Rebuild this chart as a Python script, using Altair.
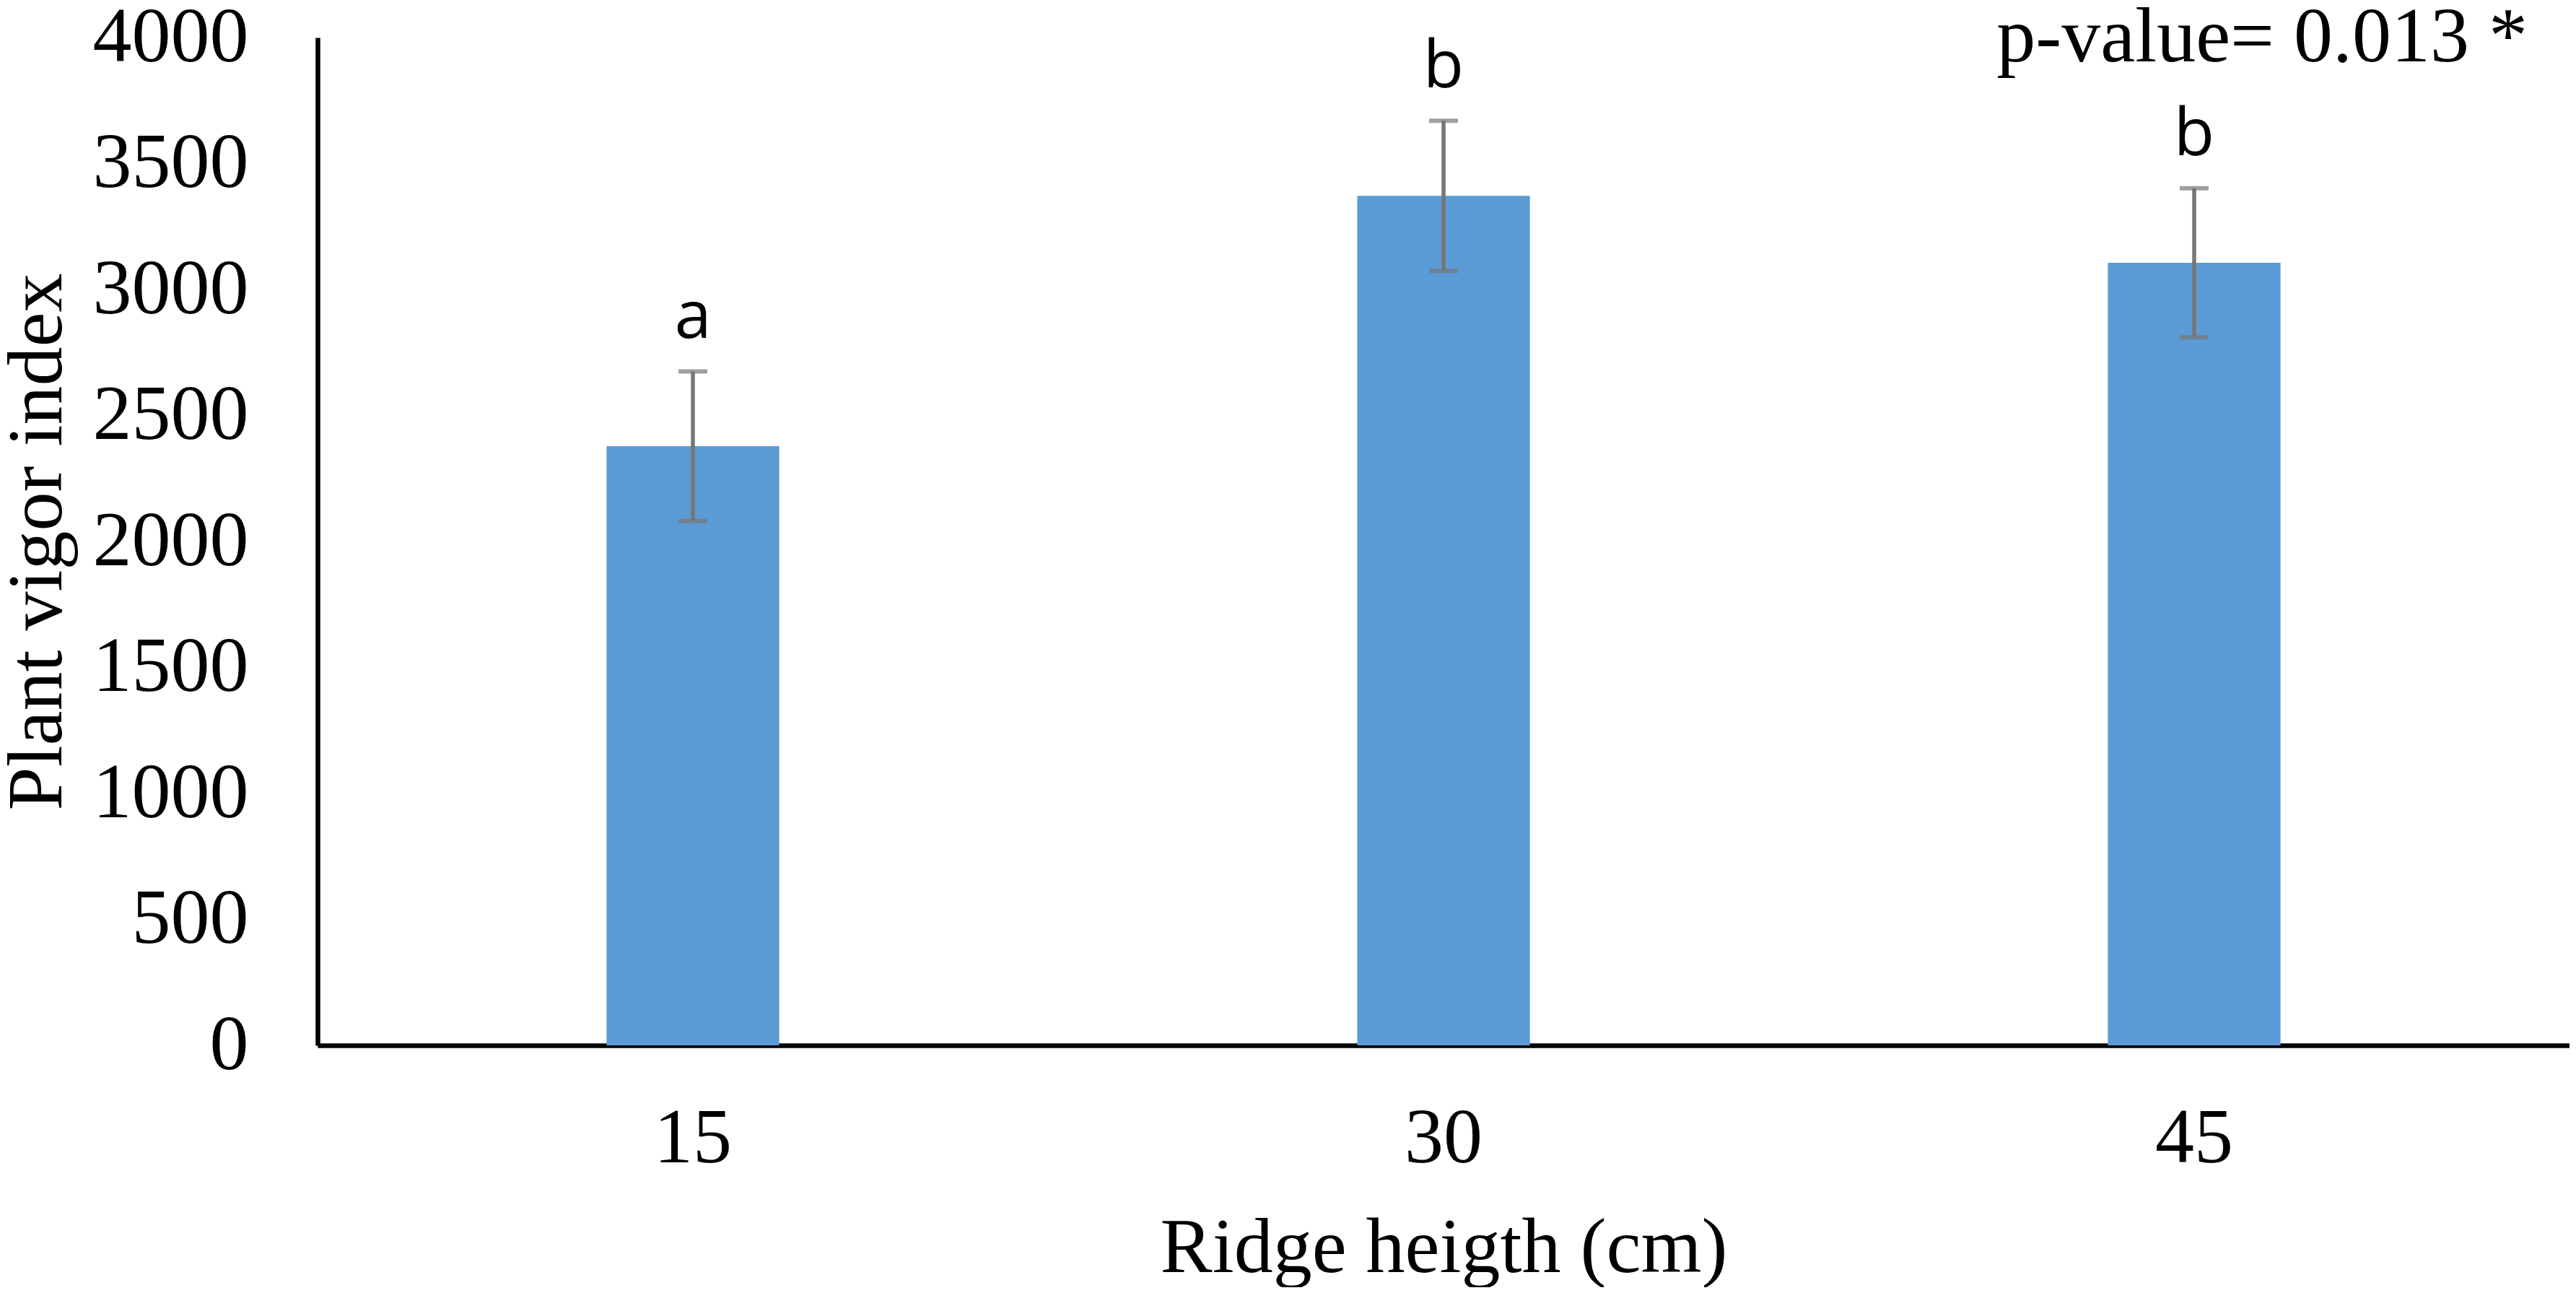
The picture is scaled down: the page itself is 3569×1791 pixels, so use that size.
import altair as alt
import pandas as pd

# ---- data ----
ridge_height = ["15", "30", "45"]
vigor_index = [2378, 3372, 3106]
std_error = [297, 298, 296]
group_letters = ["a", "b", "b"]
y_ticks = [0, 500, 1000, 1500, 2000, 2500, 3000, 3500, 4000]
p_value_text = "p-value= 0.013 *"

x_title = "Ridge heigth (cm)"
y_title = "Plant vigor index"

df = pd.DataFrame({
    "height": ridge_height,
    "vigor": vigor_index,
    "se": std_error,
    "letter": group_letters,
})
df["lo"] = df["vigor"] - df["se"]
df["hi"] = df["vigor"] + df["se"]

serif = "Liberation Serif"
sans = "Open Sans"
FS = 108

x_enc = alt.X(
    "height:N",
    sort=ridge_height,
    scale=alt.Scale(paddingInner=0.77, paddingOuter=0.385),
    axis=alt.Axis(
        title=x_title,
        labelAngle=0,
        labelFont=serif,
        labelFontSize=FS,
        labelColor="black",
        labelBaseline="alphabetic",
        labelPadding=161,
        labelLimit=0,
        ticks=False,
        tickSize=0,
        domainColor="black",
        domainWidth=6.5,
        titleFont=serif,
        titleFontSize=FS,
        titleFontWeight="normal",
        titleColor="black",
        titleBaseline="alphabetic",
        titleLimit=0,
        titleY=313,
        grid=False,
    ),
)

y_scale = alt.Scale(domain=[0, 4000], nice=False)
y_axis = alt.Axis(
    title=y_title,
    values=y_ticks,
    format="d",
    labelFont=serif,
    labelFontSize=FS,
    labelColor="black",
    labelPadding=96,
    labelLimit=0,
    ticks=False,
    tickSize=0,
    domainColor="black",
    domainWidth=6.5,
    grid=False,
    titleFont=serif,
    titleFontSize=FS,
    titleFontWeight="normal",
    titleColor="black",
    titleBaseline="alphabetic",
    titleLimit=0,
    titleAngle=270,
    titleX=-356,
)

base = alt.Chart(df)

bars = base.mark_bar(color="#5B9BD5").encode(
    x=x_enc,
    y=alt.Y("vigor:Q", scale=y_scale, axis=y_axis),
)

err_color = "#767676"
err_rule = base.mark_rule(color=err_color, strokeWidth=5.5).encode(
    x=alt.X("height:N", sort=ridge_height),
    y=alt.Y("lo:Q", scale=y_scale),
    y2="hi:Q",
)
cap_hi = base.mark_tick(color=err_color, thickness=6, size=40).encode(
    x=alt.X("height:N", sort=ridge_height),
    y=alt.Y("hi:Q", scale=y_scale),
)
cap_lo = base.mark_tick(color=err_color, thickness=6, size=40).encode(
    x=alt.X("height:N", sort=ridge_height),
    y=alt.Y("lo:Q", scale=y_scale),
)

letters = base.mark_text(
    font=sans, fontSize=92, color="black", baseline="alphabetic", dy=-46
).encode(
    x=alt.X("height:N", sort=ridge_height),
    y=alt.Y("hi:Q", scale=y_scale),
    text="letter:N",
)

pval = alt.Chart(pd.DataFrame({"t": [p_value_text]})).mark_text(
    font=serif, fontSize=FS, color="black", align="right", baseline="alphabetic",
    limit=0,
).encode(
    x=alt.value(3062),
    y=alt.value(33),
    text="t:N",
)

chart = (
    alt.layer(bars, err_rule, cap_hi, cap_lo, letters, pval)
    .properties(
        width=3120,
        height=1396,
        autosize=alt.AutoSizeParams(type="none"),
        padding={"left": 432, "top": 44, "right": 0, "bottom": 335},
        background="white",
    )
    .configure_view(stroke=None)
)

chart.save("out.html", embed_options={"renderer": "svg", "actions": False})
